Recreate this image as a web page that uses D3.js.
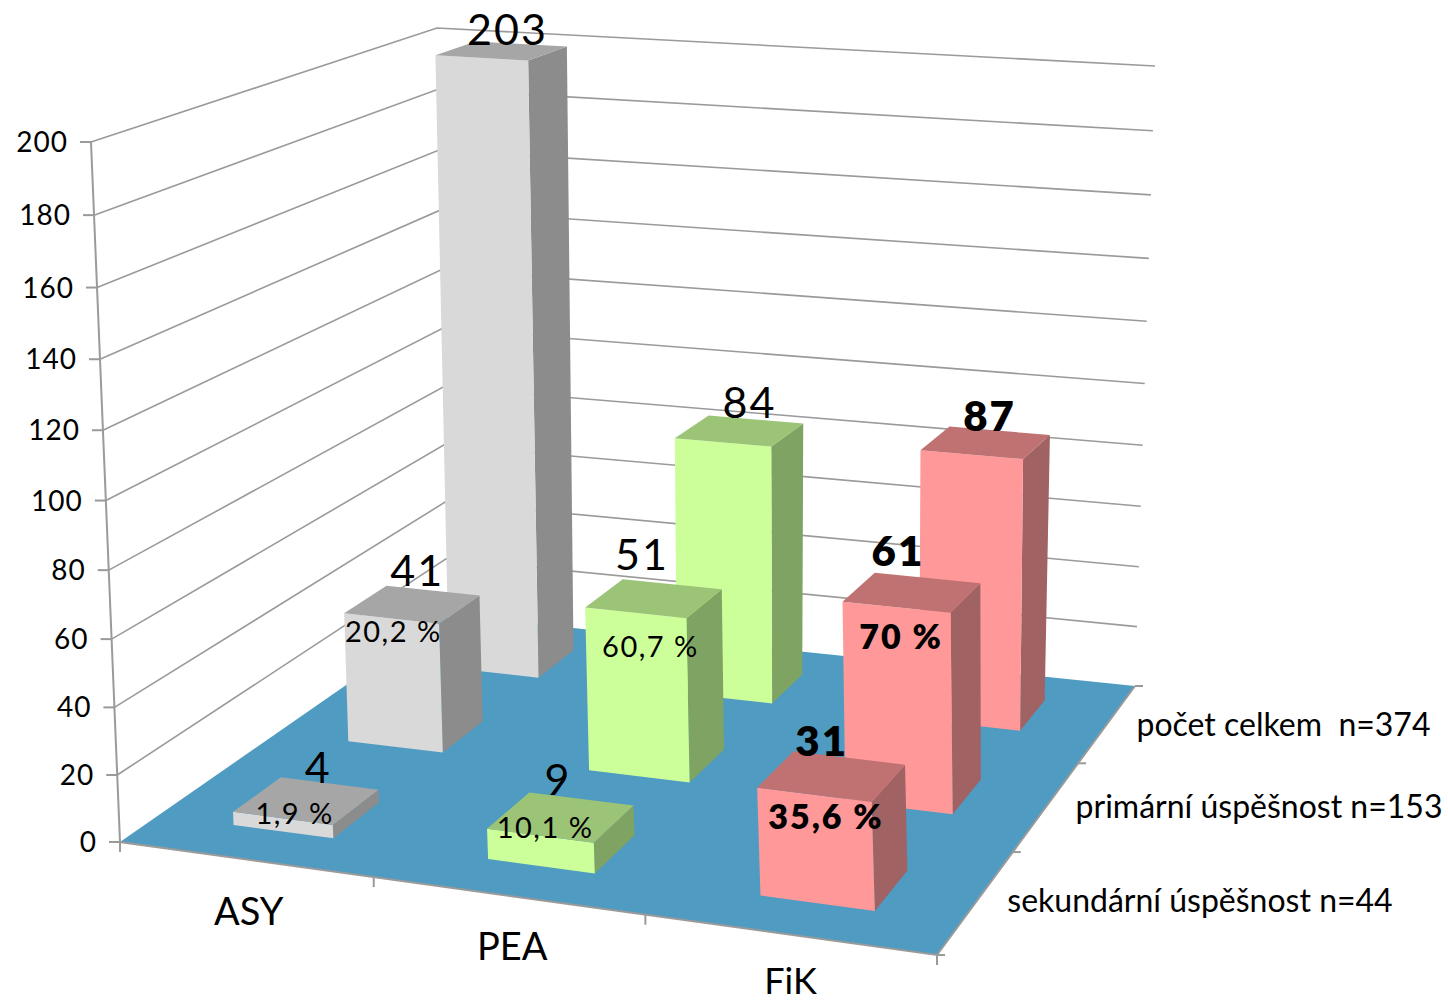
<!DOCTYPE html>
<html><head><meta charset="utf-8">
<script src="https://cdnjs.cloudflare.com/ajax/libs/d3/7.8.5/d3.min.js"></script>
<style>html,body{margin:0;background:#fff}svg{display:block}text{font-family:Lato,"Noto Sans",sans-serif;fill:#000;white-space:pre}</style>
</head><body><svg id="c" width="1448" height="1000"></svg>
<script>
const categories = ["ASY","PEA","FiK"];
const seriesNames = ["sekundární úspěšnost n=44","primární úspěšnost n=153","počet celkem  n=374"];
const secondary = [4,9,31];
const primary = [41,51,61];
const total = [203,84,87];
const primaryPct = ["20,2 %","60,7 %","70 %"];
const secondaryPct = ["1,9 %","10,1 %","35,6 %"];
const valueTicks = d3.range(0,201,20);

const svg = d3.select("#c");
const floorQuad = [[120,842],[937,955],[1135,686],[447,615]]; // FL FR BR BL
const ceilQuad  = [[91,142],[912,200],[1155,66],[437,28]];
function homography(q){
  const [p0,p1,p2,p3]=q;
  const dx1=p1[0]-p2[0],dx2=p3[0]-p2[0],sx=p0[0]-p1[0]+p2[0]-p3[0];
  const dy1=p1[1]-p2[1],dy2=p3[1]-p2[1],sy=p0[1]-p1[1]+p2[1]-p3[1];
  const den=dx1*dy2-dx2*dy1;
  const g=(sx*dy2-dx2*sy)/den,h=(dx1*sy-sx*dy1)/den;
  const a=p1[0]-p0[0]+g*p1[0],b=p3[0]-p0[0]+h*p3[0],c=p0[0];
  const d=p1[1]-p0[1]+g*p1[1],e=p3[1]-p0[1]+h*p3[1],f=p0[1];
  return (u,v)=>{const w=g*u+h*v+1;return [(a*u+b*v+c)/w,(d*u+e*v+f)/w];};
}
const H0=homography(floorQuad),H1=homography(ceilQuad);
// The value axis stops at 200, so taller bars are cut off at the ceiling
const heightScale=d3.scaleLinear().domain([0,200]).range([0,1]).clamp(true);
const persp=1.05;
function P(u,v,val){
  const s=heightScale(val),t=s/(s+persp*(1-s));
  const a=H0(u,v),b=H1(u,v);
  return [a[0]+(b[0]-a[0])*t,a[1]+(b[1]-a[1])*t];
}
const uScale=d3.scaleBand().domain(categories).range([0.002,1.002]).paddingInner(0.6).paddingOuter(0.3);
const vScale=d3.scaleBand().domain(seriesNames).range([0,1]).paddingInner(0.6).paddingOuter(0.3);
const line=d3.line();
const poly=pts=>line(pts)+"Z";
const GRID="#9a9a9a";

svg.append("path").attr("d",poly(floorQuad)).attr("fill","#4f9bc1");
valueTicks.forEach(val=>{
  if(val>0) svg.append("path").attr("d",line([P(1,1,val),P(0,1,val),P(0,0,val)])).attr("fill","none").attr("stroke",GRID).attr("stroke-width",1.6);
  const a=P(0,0,val);
  svg.append("line").attr("x1",a[0]-11).attr("x2",a[0]).attr("y1",a[1]).attr("y2",a[1]).attr("stroke",GRID).attr("stroke-width",2);
  svg.append("text").attr("x",a[0]-23).attr("y",a[1]+10).attr("text-anchor","end").attr("font-size",28).attr("letter-spacing",1).text(val);
});
svg.append("path").attr("d",line([P(0,0,200),P(0,0,0),P(1,0,0),P(1,1,0)])).attr("fill","none").attr("stroke",GRID).attr("stroke-width",2);
d3.range(0,4).forEach(i=>{
  const a=P(i/3,0,0);
  svg.append("line").attr("x1",a[0]).attr("x2",a[0]).attr("y1",a[1]).attr("y2",a[1]+10).attr("stroke",GRID).attr("stroke-width",2);
  const b=P(1,i/3,0);
  svg.append("line").attr("x1",b[0]).attr("x2",b[0]+8).attr("y1",b[1]).attr("y2",b[1]).attr("stroke",GRID).attr("stroke-width",2);
});

const palette=[
 {front:"#d9d9d9",side:"#8c8c8c",top:"#a6a6a6"},
 {front:"#ccff99",side:"#7fa362",top:"#9cc477"},
 {front:"#ff9999",side:"#a06262",top:"#c07272"}];
const rows=[total,primary,secondary];
const rowSeries=[seriesNames[2],seriesNames[1],seriesNames[0]];
rows.forEach((vals,r)=>{
  vals.forEach((val,c)=>{
    const u0=uScale(categories[c]),u1=u0+uScale.bandwidth();
    const v0=vScale(rowSeries[r]),v1=v0+vScale.bandwidth();
    const col=palette[c];
    const g=svg.append("g");
    g.append("path").attr("d",poly([P(u1,v0,0),P(u1,v1,0),P(u1,v1,val),P(u1,v0,val)])).attr("fill",col.side);
    g.append("path").attr("d",poly([P(u0,v0,0),P(u1,v0,0),P(u1,v0,val),P(u0,v0,val)])).attr("fill",col.front);
    g.append("path").attr("d",poly([P(u0,v0,val),P(u1,v0,val),P(u1,v1,val),P(u0,v1,val)])).attr("fill",col.top);
  });
});
// hand-placed label nudges of the original, relative to each bar's top
const valueNudge=[[[6,-6],[10,-13],[4,-12]],[[5,-18],[-12,-28],[-14,-26]],[[12,-18],[-3,-22],[-10,-20]]];
const pctNudge=[null,[[2,24],[15,44],[5,42]],[[12,6],[5,2],[12,34]]];
const boldCat=2;
rows.forEach((vals,r)=>{
  vals.forEach((val,c)=>{
    const u=uScale(categories[c])+uScale.bandwidth()/2;
    const v0=vScale(rowSeries[r]),v1=v0+vScale.bandwidth();
    const top=P(u,(v0+v1)/2,val);
    const n=valueNudge[r][c];
    svg.append("text").attr("x",top[0]+n[0]).attr("y",top[1]+n[1])
      .attr("text-anchor","middle").attr("font-size",c===boldCat?42:43).attr("letter-spacing",2).attr("font-weight",c===boldCat?800:400).text(val);
    const pct=r===1?primaryPct[c]:r===2?secondaryPct[c]:null;
    if(pct){
      const f=P(u,v0,val),m=pctNudge[r][c];
      svg.append("text").attr("x",f[0]+m[0]).attr("y",f[1]+m[1])
        .attr("text-anchor","middle").attr("font-size",c===boldCat?34:29).attr("letter-spacing",c===boldCat?2:1.5).attr("font-weight",c===boldCat?800:400).text(pct);
    }
  });
});
categories.forEach((cat,i)=>{
  const a=P((i+.5)/3,0,0);
  svg.append("text").attr("x",a[0]+[4,5,2][i]).attr("y",a[1]+[66,64,60][i]).attr("text-anchor","middle").attr("font-size",[38,38,36][i]).text(cat);
});
seriesNames.forEach((s,i)=>{
  const a=P(1,(i+.5)/3,0);
  svg.append("text").attr("x",a[0]+[31,29,29][i]).attr("y",a[1]+[10,12,13][i]).attr("font-size",32).text(s);
});
</script></body></html>
